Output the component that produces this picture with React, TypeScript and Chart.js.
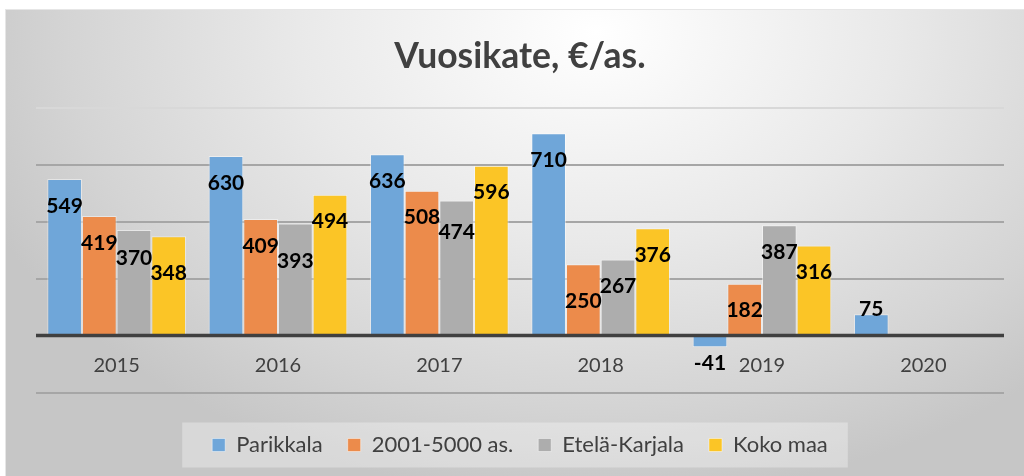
import React, { useEffect, useRef } from 'react';
import { Chart, registerables } from 'chart.js';

Chart.register(...registerables);

// ---- data ----
const categories = ['2015', '2016', '2017', '2018', '2019', '2020'];
const seriesNames = ['Parikkala', '2001-5000 as.', 'Etelä-Karjala', 'Koko maa'];
const parikkala = [549, 630, 636, 710, -41, 75];
const kunnat2001to5000 = [419, 409, 508, 250, 182, null];
const etelaKarjala = [370, 393, 474, 267, 387, null];
const kokoMaa = [348, 494, 596, 376, 316, null];
const yMin = -200;
const yMax = 800;
const yStep = 200;
const titleText = 'Vuosikate, €/as.';

// ---- styles ----
const barColors = ['#6fa6d9', '#ec8b4b', '#adadad', '#fbc526'];
const FONT = 'Lato, "Open Sans", sans-serif';

const seriesData = [parikkala, kunnat2001to5000, etelaKarjala, kokoMaa];

const legendBoxPlugin = {
  id: 'legendBox',
  beforeDraw(chart: any) {
    const legend = chart.legend;
    if (!legend || !legend.legendHitBoxes || !legend.legendHitBoxes.length) return;
    const boxes = legend.legendHitBoxes;
    const minX = Math.min(...boxes.map((b: any) => b.left));
    const maxX = Math.max(...boxes.map((b: any) => b.left + b.width));
    const cy = boxes[0].top + boxes[0].height / 2;
    const ctx = chart.ctx;
    ctx.save();
    ctx.fillStyle = 'rgba(255,255,255,0.32)';
    ctx.fillRect(minX - 30, cy - 22.5, maxX - minX + 50, 45);
    ctx.restore();
  },
};

const valueLabelPlugin = {
  id: 'valueLabels',
  afterDatasetsDraw(chart: any) {
    const ctx = chart.ctx;
    const area = chart.chartArea;
    const yScale = chart.scales.y;
    const xScale = chart.scales.x;
    const zeroY = yScale.getPixelForValue(0);
    ctx.save();
    // zero axis line
    ctx.strokeStyle = '#404040';
    ctx.lineWidth = 3.5;
    ctx.beginPath();
    ctx.moveTo(area.left, zeroY);
    ctx.lineTo(area.right, zeroY);
    ctx.stroke();

    // category labels just below the zero line
    ctx.font = `20px ${FONT}`;
    ctx.fillStyle = '#404040';
    ctx.textAlign = 'center';
    ctx.textBaseline = 'middle';
    categories.forEach((c, i) => {
      ctx.fillText(c, xScale.getPixelForValue(i), zeroY + 30.5);
    });

    ctx.font = `bold 21px ${FONT}`;
    ctx.fillStyle = '#000000';
    for (let i = 0; i < categories.length; i++) {
      const items: { x: number; y: number; v: number }[] = [];
      chart.data.datasets.forEach((ds: any, d: number) => {
        const v = ds.data[i];
        if (v === null || v === undefined) return;
        const el = chart.getDatasetMeta(d).data[i];
        let y: number;
        if (v < 0) y = el.y + 16;
        else if (zeroY - el.y < 40) y = el.y - 5;
        else y = el.y + 27;
        items.push({ x: el.x, y, v });
      });
      for (let j = 1; j < items.length; j++) {
        const a = items[j - 1];
        const b = items[j];
        if (a.v < 0 || b.v < 0) continue;
        if (Math.abs(a.y - b.y) < 15) {
          if (b.y >= a.y) b.y = a.y + 15;
          else a.y = b.y + 15;
        }
      }
      items.forEach((it) => ctx.fillText(String(it.v), it.x, it.y));
    }
    ctx.restore();
  },
};

export default function App() {
  const canvasRef = useRef<HTMLCanvasElement | null>(null);

  useEffect(() => {
    if (!canvasRef.current) return;
    const chart = new Chart(canvasRef.current, {
      type: 'bar',
      data: {
        labels: categories,
        datasets: seriesNames.map((name, k) => ({
          label: name,
          data: seriesData[k],
          backgroundColor: barColors[k],
          borderColor: 'rgba(255,255,255,0.45)',
          borderWidth: 1,
          categoryPercentage: 0.86,
          barPercentage: 1,
        })),
      },
      options: {
        responsive: false,
        animation: false,
        layout: { padding: { left: 31, right: 20, top: 0, bottom: 10 } },
        plugins: {
          tooltip: { enabled: false },
          title: {
            display: true,
            text: titleText,
            color: '#404040',
            font: { family: FONT, size: 35.5, weight: 'bold' },
            padding: { top: 26.7, bottom: 29.2 },
          },
          legend: {
            display: true,
            position: 'bottom',
            labels: {
              boxWidth: 13,
              boxHeight: 13,
              padding: 25,
              color: '#404040',
              font: { family: FONT, size: 22 },
            },
          },
        },
        scales: {
          x: {
            grid: { display: false, drawTicks: false },
            border: { display: false },
            ticks: { display: false },
            afterFit: (s: any) => {
              s.height = 16.5;
            },
          },
          y: {
            min: yMin,
            max: yMax,
            border: { display: false },
            ticks: { display: false, stepSize: yStep },
            grid: {
              drawTicks: false,
              lineWidth: 2,
              color: (c: any) => {
                const v = c.tick ? c.tick.value : null;
                if (v === 0) return 'rgba(0,0,0,0)';
                if (v === yMax) return '#d8d8d8';
                return '#a6a6a6';
              },
            },
            afterFit: (s: any) => {
              s.width = 0;
            },
          },
        },
      },
      plugins: [legendBoxPlugin, valueLabelPlugin],
    });
    return () => chart.destroy();
  }, []);

  return (
    <div
      style={{
        position: 'fixed',
        left: 5,
        top: 9,
        width: 1019,
        height: 467,
        background:
          'radial-gradient(ellipse 65% 100% at 58% 5%, #ffffff 0%, #e9e9e9 45%, #d4d4d4 80%, #c6c6c6 100%)',
        boxShadow: 'inset 1px 1px 0 #e6e6e6',
      }}
    >
      <canvas ref={canvasRef} width={1019} height={467} style={{ display: 'block' }} />
    </div>
  );
}
